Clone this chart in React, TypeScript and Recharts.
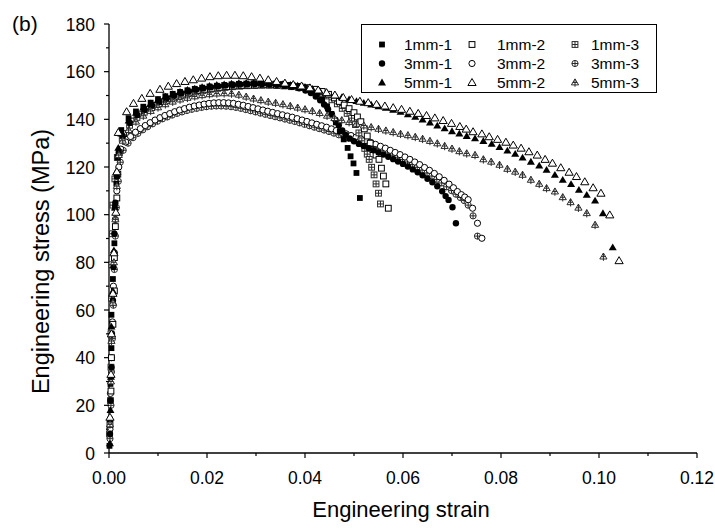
import React from 'react'
import { ScatterChart, Scatter, XAxis, YAxis } from 'recharts'

type Pt = [number, number]

const xTicks = [0, 0.01, 0.02, 0.03, 0.04, 0.05, 0.06, 0.07, 0.08, 0.09, 0.1, 0.11, 0.12]
const yTicks = [0, 10, 20, 30, 40, 50, 60, 70, 80, 90, 100, 110, 120, 130, 140, 150, 160, 170, 180]

// [engineering strain, engineering stress (MPa)]
const s1mm1: Pt[] = [
  [0.0001, 3], [0.0002, 14], [0.0003, 29], [0.0005, 44], [0.0005, 58], [0.0008, 73], [0.0011, 88], [0.0012, 103], [0.0015, 113], [0.0018, 124],
  [0.0025, 135.5], [0.004, 140.5], [0.0055, 143.3], [0.007, 145.3], [0.0085, 147], [0.01, 148.5], [0.0115, 149.7], [0.013, 150.7], [0.0145, 151.5],
  [0.016, 152.2], [0.0175, 152.8], [0.019, 153.3], [0.0205, 153.8], [0.022, 154.1], [0.0235, 154.4], [0.025, 154.7], [0.0265, 154.9], [0.028, 155],
  [0.0295, 155.1], [0.031, 155.1], [0.0325, 155.1], [0.034, 155], [0.0355, 154.8], [0.037, 154.4], [0.0385, 153.9], [0.04, 153.2], [0.0412, 152.2],
  [0.0424, 150.6], [0.0435, 148.4], [0.0445, 145.5], [0.0454, 142.3], [0.0463, 138.7], [0.0471, 135], [0.0479, 131.6], [0.0487, 128], [0.0493, 124.5],
  [0.0499, 121.5], [0.0505, 117.5], [0.0512, 107],
]

const s1mm2: Pt[] = [
  [0.0002, 12], [0.0004, 26], [0.0005, 40], [0.0008, 54], [0.0011, 68], [0.0011, 82], [0.0013, 95], [0.0016, 107], [0.0018, 117], [0.0021, 126],
  [0.003, 134], [0.0045, 139.3], [0.006, 142.2], [0.0075, 144.2], [0.009, 145.9], [0.0105, 147.4], [0.012, 148.6], [0.0135, 149.7], [0.015, 150.6],
  [0.0165, 151.4], [0.018, 152], [0.0195, 152.6], [0.021, 153], [0.0225, 153.4], [0.024, 153.7], [0.0255, 154], [0.027, 154.2], [0.0285, 154.3],
  [0.03, 154.4], [0.0315, 154.5], [0.033, 154.5], [0.0345, 154.4], [0.036, 154.2], [0.0375, 154], [0.039, 153.7], [0.0405, 153.3], [0.042, 152.6],
  [0.0435, 151.7], [0.0448, 150.5], [0.046, 149], [0.047, 147.5], [0.048, 146], [0.049, 144.5], [0.05, 142.8], [0.0507, 141], [0.0514, 139],
  [0.0521, 136], [0.0527, 133], [0.0533, 130], [0.0539, 127.3], [0.0545, 125], [0.0551, 123.2], [0.0556, 119.5], [0.056, 116.2], [0.0565, 112.9],
  [0.057, 102.7],
]

const s1mm3: Pt[] = [
  [0.0001, 8], [0.0003, 22], [0.0004, 36], [0.0004, 50], [0.0005, 65], [0.0006, 79], [0.0007, 92], [0.0008, 104], [0.0012, 115], [0.0017, 124],
  [0.0027, 132], [0.0042, 137.5], [0.0057, 140.8], [0.0072, 143], [0.0087, 144.9], [0.0102, 146.5], [0.0117, 147.8], [0.0132, 149], [0.0147, 150],
  [0.0162, 150.8], [0.0177, 151.5], [0.0192, 152.1], [0.0207, 152.6], [0.0222, 153], [0.0237, 153.4], [0.0252, 153.7], [0.0267, 153.9], [0.0282, 154.1],
  [0.0297, 154.2], [0.0312, 154.3], [0.0327, 154.3], [0.0342, 154.2], [0.0357, 154], [0.0372, 153.7], [0.0387, 153.3], [0.0402, 152.8], [0.0416, 152],
  [0.043, 151], [0.0443, 149.8], [0.0455, 148.2], [0.0466, 146.5], [0.0476, 144.6], [0.0486, 142.5], [0.0495, 140.5], [0.0503, 137.8], [0.051, 134.3],
  [0.0516, 131], [0.0522, 127.8], [0.0527, 125.4], [0.0531, 123.2], [0.0536, 119.9], [0.0541, 116.7], [0.0545, 112.9], [0.055, 109], [0.0554, 104.5],
]

const s3mm1: Pt[] = [
  [0.0002, 8], [0.0003, 22], [0.0005, 36], [0.0006, 50], [0.0008, 64], [0.0009, 78], [0.0011, 92], [0.0013, 105], [0.0016, 116], [0.002, 126],
  [0.0028, 133], [0.0043, 138.5], [0.0058, 141.8], [0.0073, 144], [0.0088, 145.8], [0.0103, 147.4], [0.0118, 148.8], [0.0133, 149.9], [0.0148, 150.9],
  [0.0163, 151.7], [0.0178, 152.4], [0.0193, 153], [0.0208, 153.5], [0.0223, 153.9], [0.0238, 154.2], [0.0253, 154.4], [0.0268, 154.6], [0.0283, 154.7],
  [0.0298, 154.8], [0.0313, 154.8], [0.0328, 154.7], [0.0343, 154.5], [0.0358, 154.2], [0.0373, 153.7], [0.0388, 153], [0.0401, 152.1], [0.0412, 151],
  [0.0422, 149.6], [0.0431, 148], [0.0439, 146.2], [0.0447, 144.2], [0.0455, 142], [0.0462, 139.8], [0.0469, 137.5], [0.0476, 135.3], [0.0483, 133.5],
  [0.0491, 132], [0.05, 130.8], [0.051, 129.7], [0.052, 128.8], [0.053, 127.9], [0.054, 127], [0.055, 126.1], [0.056, 125.2], [0.057, 124.3],
  [0.058, 123.3], [0.059, 122.3], [0.06, 121.3], [0.061, 120.2], [0.062, 119], [0.063, 117.8], [0.064, 116.5], [0.065, 115.1], [0.066, 113.6],
  [0.067, 111.9], [0.068, 109.8], [0.0687, 107.8], [0.0693, 106.2], [0.0701, 103.1], [0.0708, 96.4],
]

const s3mm2: Pt[] = [
  [0.0002, 10], [0.0003, 25], [0.0005, 40], [0.0007, 55], [0.0009, 70], [0.0011, 84], [0.0013, 98], [0.0016, 110], [0.002, 120],
  [0.0024, 127.5], [0.0034, 130.5], [0.0044, 132.8], [0.0054, 134.6], [0.0064, 136.1], [0.0074, 137.4], [0.0084, 138.6], [0.0094, 139.7], [0.0104, 140.7],
  [0.0114, 141.6], [0.0124, 142.4], [0.0134, 143.2], [0.0144, 143.9], [0.0154, 144.5], [0.0164, 145.1], [0.0174, 145.6], [0.0184, 146], [0.0194, 146.4],
  [0.0204, 146.7], [0.0214, 146.9], [0.0224, 147], [0.0234, 147], [0.0244, 146.9], [0.0254, 146.7], [0.0264, 146.3], [0.0274, 145.9], [0.0284, 145.4],
  [0.0294, 144.9], [0.0304, 144.4], [0.0314, 143.9], [0.0324, 143.4], [0.0334, 142.9], [0.0344, 142.4], [0.0354, 141.9], [0.0364, 141.4], [0.0374, 140.9],
  [0.0384, 140.3], [0.0394, 139.7], [0.0404, 139.1], [0.0414, 138.5], [0.0424, 137.9], [0.0434, 137.3], [0.0444, 136.7], [0.0454, 136], [0.0464, 135.3],
  [0.0474, 134.6], [0.0484, 133.9], [0.0494, 133.2], [0.0504, 132.5], [0.0514, 131.8], [0.0524, 131.1], [0.0534, 130.3], [0.0544, 129.5], [0.0554, 128.7],
  [0.0564, 127.9], [0.0574, 127], [0.0584, 126.1], [0.0594, 125.2], [0.0604, 124.2], [0.0614, 123.2], [0.0624, 122.1], [0.0634, 121], [0.0644, 119.8],
  [0.0654, 118.6], [0.0664, 117.3], [0.0674, 115.9], [0.0684, 114.4], [0.0694, 112.8], [0.0703, 111.3], [0.0711, 109.7], [0.0719, 108.4], [0.0726, 107.4],
  [0.0733, 106.3], [0.0742, 102.7], [0.0752, 96.4], [0.0761, 90.1],
]

const s3mm3: Pt[] = [
  [0.0002, 6], [0.0004, 20], [0.0005, 34], [0.0007, 48], [0.0009, 62], [0.0011, 77], [0.0013, 91], [0.0015, 103], [0.0019, 114], [0.0023, 122],
  [0.0029, 127], [0.0039, 130], [0.0049, 132.3], [0.0059, 134.1], [0.0069, 135.6], [0.0079, 136.9], [0.0089, 138.1], [0.0099, 139.2], [0.0109, 140.2],
  [0.0119, 141], [0.0129, 141.8], [0.0139, 142.5], [0.0149, 143.1], [0.0159, 143.7], [0.0169, 144.2], [0.0179, 144.6], [0.0189, 145], [0.0199, 145.3],
  [0.0209, 145.5], [0.0219, 145.6], [0.0229, 145.6], [0.0239, 145.5], [0.0249, 145.3], [0.0259, 145], [0.0269, 144.6], [0.0279, 144.1], [0.0289, 143.6],
  [0.0299, 143.1], [0.0309, 142.6], [0.0319, 142.1], [0.0329, 141.6], [0.0339, 141.1], [0.0349, 140.6], [0.0359, 140.1], [0.0369, 139.6], [0.0379, 139.1],
  [0.0389, 138.5], [0.0399, 137.9], [0.0409, 137.3], [0.0419, 136.7], [0.0429, 136.1], [0.0439, 135.5], [0.0449, 134.9], [0.0459, 134.2], [0.0469, 133.5],
  [0.0479, 132.8], [0.0489, 132.1], [0.0499, 131.4], [0.0509, 130.7], [0.0519, 130], [0.0529, 129.2], [0.0539, 128.4], [0.0549, 127.6], [0.0559, 126.8],
  [0.0569, 125.9], [0.0579, 125], [0.0589, 124.1], [0.0599, 123.1], [0.0609, 122.1], [0.0619, 121], [0.0629, 119.9], [0.0639, 118.7], [0.0649, 117.5],
  [0.0659, 116.2], [0.0669, 114.8], [0.0679, 113.3], [0.0689, 111.7], [0.0699, 110.1], [0.0708, 108.6], [0.0717, 107.2], [0.0725, 105.9], [0.0733, 104],
  [0.0743, 99.5], [0.0752, 91],
]

const s5mm1: Pt[] = [
  [0.0002, 4], [0.0003, 18], [0.0004, 32], [0.0005, 53], [0.0008, 68], [0.001, 85], [0.0012, 103], [0.0015, 118], [0.0019, 128],
  [0.0025, 134], [0.004, 139.5], [0.0055, 142.7], [0.007, 144.9], [0.0085, 146.7], [0.01, 148.2], [0.0115, 149.5], [0.013, 150.6], [0.0145, 151.5],
  [0.016, 152.3], [0.0175, 152.9], [0.019, 153.5], [0.0205, 154], [0.022, 154.4], [0.0235, 154.7], [0.025, 155], [0.0265, 155.2], [0.028, 155.3],
  [0.0295, 155.4], [0.031, 155.4], [0.0325, 155.3], [0.034, 155.1], [0.0355, 154.8], [0.037, 154.5], [0.0385, 154.1], [0.04, 153.6], [0.0415, 152.8],
  [0.043, 151.9], [0.0445, 150.9], [0.046, 150], [0.0475, 149.2], [0.049, 148.4], [0.0505, 147.6], [0.052, 146.9], [0.0535, 146.2], [0.055, 145.5],
  [0.0565, 144.8], [0.058, 144], [0.0595, 143.1], [0.061, 142.1], [0.0625, 141], [0.064, 139.9], [0.0655, 138.6], [0.067, 137.4], [0.0685, 136.2],
  [0.07, 135], [0.0715, 134], [0.073, 133], [0.0747, 132], [0.0764, 130.9], [0.0781, 129.7], [0.0797, 128.3], [0.0813, 126.9], [0.0829, 125.5],
  [0.0844, 123.9], [0.0861, 122.2], [0.0878, 120.6], [0.0893, 118.8], [0.091, 116.7], [0.0926, 114.6], [0.0943, 112.8], [0.0959, 110.4], [0.0975, 108.3],
  [0.0992, 105.9], [0.1008, 100.6], [0.1028, 86.3],
]

const s5mm2: Pt[] = [
  [0.0002, 15], [0.0004, 33], [0.0005, 50], [0.0008, 67], [0.001, 84], [0.0014, 101], [0.0016, 118], [0.0019, 134.5],
  [0.0036, 143.2], [0.005, 146.7], [0.0067, 148.8], [0.0084, 150.9], [0.0104, 152.6], [0.0121, 153.9], [0.0138, 155], [0.0155, 155.9], [0.0172, 156.6],
  [0.0189, 157.3], [0.0206, 157.9], [0.0223, 158.3], [0.024, 158.5], [0.0257, 158.5], [0.0274, 158.3], [0.0291, 157.9], [0.0308, 157.3], [0.0325, 156.6],
  [0.0342, 155.9], [0.0359, 155.2], [0.0376, 154.6], [0.0393, 154], [0.041, 153.2], [0.0427, 152.3], [0.0444, 151.2], [0.0461, 150.2], [0.0478, 149.2],
  [0.0495, 148.3], [0.0512, 147.6], [0.0529, 147], [0.0546, 146.3], [0.0563, 145.6], [0.058, 144.9], [0.0597, 144.2], [0.0614, 143.4], [0.0631, 142.5],
  [0.0648, 141.6], [0.0665, 140.6], [0.0682, 139.5], [0.0699, 138.3], [0.0716, 137], [0.0729, 135.9], [0.0743, 134.8], [0.0761, 133.9], [0.0776, 132.7],
  [0.0793, 131.6], [0.081, 130.4], [0.0825, 129.2], [0.0841, 127.9], [0.0857, 126.4], [0.0874, 125], [0.089, 123.2], [0.0905, 121.6], [0.0922, 119.7],
  [0.0939, 117.8], [0.0954, 116], [0.0971, 113.8], [0.0988, 111.3], [0.1004, 109], [0.1022, 99.9], [0.1041, 80.7],
]

const s5mm3: Pt[] = [
  [0.0002, 12], [0.0004, 30], [0.0005, 47], [0.0008, 63], [0.001, 80], [0.0013, 98], [0.0016, 112], [0.002, 125],
  [0.0028, 131], [0.004, 135.5], [0.0055, 139], [0.007, 141.5], [0.0085, 143.5], [0.01, 145], [0.0115, 146.3], [0.013, 147.4], [0.0145, 148.3],
  [0.016, 149], [0.0175, 149.6], [0.019, 150.1], [0.0205, 150.5], [0.022, 150.8], [0.0235, 150.9], [0.025, 150.8], [0.0265, 150.3], [0.028, 149.5],
  [0.0295, 148.7], [0.031, 148], [0.0325, 147.4], [0.034, 146.9], [0.0355, 146.3], [0.037, 145.6], [0.0385, 144.9], [0.04, 144.2], [0.0415, 143.5],
  [0.043, 142.6], [0.0445, 141.5], [0.046, 140.5], [0.0475, 139.6], [0.049, 138.8], [0.0505, 138.1], [0.052, 137.4], [0.0535, 136.7], [0.055, 136],
  [0.0565, 135.3], [0.058, 134.6], [0.0595, 133.9], [0.061, 133.3], [0.0625, 132.6], [0.064, 131.8], [0.0655, 130.9], [0.067, 129.9], [0.0685, 128.8],
  [0.07, 127.7], [0.0715, 126.6], [0.073, 125.7], [0.0747, 125], [0.0764, 123.2], [0.078, 122.2], [0.0797, 120.9], [0.0813, 119.2], [0.0829, 118],
  [0.0844, 116.7], [0.0861, 114.6], [0.0878, 112.9], [0.0893, 111.1], [0.091, 109.7], [0.0926, 107.3], [0.0942, 105.2], [0.0958, 102.9], [0.0975, 100.6],
  [0.0992, 95.7], [0.1009, 82.4],
]

const FONT = '"Liberation Sans", Arial, Helvetica, sans-serif'
const INK = '#000'
const GREY = '#2a2a2a'

type Kind = 'sqFill' | 'sqOpen' | 'sqCross' | 'ciFill' | 'ciOpen' | 'ciCross' | 'trFill' | 'trOpen' | 'trCross'

function marker(kind: Kind, cx: number, cy: number) {
  switch (kind) {
    case 'sqFill':
      return <rect x={cx - 2.9} y={cy - 2.9} width={5.8} height={5.8} fill={INK} />
    case 'sqOpen':
      return <rect x={cx - 2.9} y={cy - 2.9} width={5.8} height={5.8} fill="#fff" stroke={INK} strokeWidth={1} />
    case 'sqCross':
      return (
        <g stroke={GREY} strokeWidth={1} fill="#fff">
          <rect x={cx - 2.9} y={cy - 2.9} width={5.8} height={5.8} />
          <line x1={cx} x2={cx} y1={cy - 2.9} y2={cy + 2.9} />
          <line x1={cx - 2.9} x2={cx + 2.9} y1={cy} y2={cy} />
        </g>
      )
    case 'ciFill':
      return <circle cx={cx} cy={cy} r={3.2} fill={INK} />
    case 'ciOpen':
      return <circle cx={cx} cy={cy} r={3.1} fill="#fff" stroke={INK} strokeWidth={1} />
    case 'ciCross':
      return (
        <g stroke={GREY} strokeWidth={1} fill="#fff">
          <circle cx={cx} cy={cy} r={3.1} />
          <line x1={cx} x2={cx} y1={cy - 3.1} y2={cy + 3.1} />
          <line x1={cx - 3.1} x2={cx + 3.1} y1={cy} y2={cy} />
        </g>
      )
    case 'trFill':
      return <polygon points={`${cx},${cy - 3.9} ${cx - 4},${cy + 2.9} ${cx + 4},${cy + 2.9}`} fill={INK} />
    case 'trOpen':
      return (
        <polygon
          points={`${cx},${cy - 4} ${cx - 4.1},${cy + 3} ${cx + 4.1},${cy + 3}`}
          fill="#fff"
          stroke={INK}
          strokeWidth={1}
        />
      )
    case 'trCross':
      return (
        <g stroke={GREY} strokeWidth={1} fill="#fff">
          <polygon points={`${cx},${cy - 3.6} ${cx - 3.6},${cy + 2.4} ${cx + 3.6},${cy + 2.4}`} />
          <line x1={cx} x2={cx} y1={cy - 3.6} y2={cy + 4.2} />
          <line x1={cx - 2.2} x2={cx + 2.2} y1={cy} y2={cy} />
        </g>
      )
  }
}

const series: { name: string; kind: Kind; data: Pt[] }[] = [
  { name: '3mm-3', kind: 'ciCross', data: s3mm3 },
  { name: '3mm-2', kind: 'ciOpen', data: s3mm2 },
  { name: '1mm-3', kind: 'sqCross', data: s1mm3 },
  { name: '1mm-2', kind: 'sqOpen', data: s1mm2 },
  { name: '3mm-1', kind: 'ciFill', data: s3mm1 },
  { name: '1mm-1', kind: 'sqFill', data: s1mm1 },
  { name: '5mm-3', kind: 'trCross', data: s5mm3 },
  { name: '5mm-1', kind: 'trFill', data: s5mm1 },
  { name: '5mm-2', kind: 'trOpen', data: s5mm2 },
]

const legendRows: { name: string; kind: Kind }[][] = [
  [{ name: '1mm-1', kind: 'sqFill' }, { name: '1mm-2', kind: 'sqOpen' }, { name: '1mm-3', kind: 'sqCross' }],
  [{ name: '3mm-1', kind: 'ciFill' }, { name: '3mm-2', kind: 'ciOpen' }, { name: '3mm-3', kind: 'ciCross' }],
  [{ name: '5mm-1', kind: 'trFill' }, { name: '5mm-2', kind: 'trOpen' }, { name: '5mm-3', kind: 'trCross' }],
]

const toPoints = (d: Pt[]) => d.map(([x, y]) => ({ x, y }))

const XTick = (props: any) => {
  const { x, y, payload } = props
  const v = payload.value as number
  const major = Math.round(v * 100) % 2 === 0
  return (
    <g>
      <line x1={x} x2={x} y1={y} y2={y + (major ? 5 : 3)} stroke={INK} strokeWidth={1.2} />
      {major && (
        <text x={x} y={y + 31} textAnchor="middle" fontSize={17.5} fontFamily={FONT} fill={INK}>
          {v.toFixed(2)}
        </text>
      )}
    </g>
  )
}

const YTick = (props: any) => {
  const { x, y, payload } = props
  const v = payload.value as number
  const major = v % 20 === 0
  return (
    <g>
      <line x1={x - (major ? 5 : 3)} x2={x} y1={y} y2={y} stroke={INK} strokeWidth={1.2} />
      {major && (
        <text x={x - 14} y={y + 6.5} textAnchor="end" fontSize={17.5} fontFamily={FONT} fill={INK}>
          {v}
        </text>
      )}
    </g>
  )
}

const xTitle = (props: any) => {
  const vb = props.viewBox
  return (
    <text x={vb.x + vb.width / 2 - 2} y={vb.y + 64} textAnchor="middle" fontSize={22} fontFamily={FONT} fill={INK}>
      Engineering strain
    </text>
  )
}

const yTitle = (props: any) => {
  const vb = props.viewBox
  const cx = vb.x
  const cy = vb.y + vb.height / 2 + 23
  return (
    <text transform={`translate(${cx}, ${cy}) rotate(-90)`} textAnchor="middle" fontSize={23.5} fontFamily={FONT} fill={INK}>
      Engineering stress (MPa)
    </text>
  )
}

export default function App() {
  const legendY = [44.5, 63.5, 82.5]
  const markX = [382, 472, 575]
  const textX = [404, 497, 591]
  return (
    <div style={{ position: 'absolute', left: 0, top: 0, width: 715, height: 528, background: '#fff' }}>
      <ScatterChart width={715} height={528} margin={{ top: 24, right: 18, bottom: 15, left: 49 }}>
        <XAxis
          type="number"
          dataKey="x"
          domain={[0, 0.12]}
          ticks={xTicks}
          interval={0}
          height={60}
          tickSize={0}
          tickMargin={0}
          tickLine={false}
          tick={XTick}
          axisLine={{ stroke: INK, strokeWidth: 1.3 }}
          label={xTitle}
        />
        <YAxis
          type="number"
          dataKey="y"
          domain={[0, 180]}
          ticks={yTicks}
          interval={0}
          width={60}
          tickSize={0}
          tickMargin={0}
          tickLine={false}
          tick={YTick}
          axisLine={{ stroke: INK, strokeWidth: 1.3 }}
          label={yTitle}
        />
        {series.map((s) => (
          <Scatter
            key={s.name}
            name={s.name}
            data={toPoints(s.data)}
            isAnimationActive={false}
            shape={(p: any) => marker(s.kind, p.cx, p.cy)}
          />
        ))}
      </ScatterChart>
      <svg
        width={715}
        height={528}
        style={{ position: 'absolute', left: 0, top: 0, pointerEvents: 'none' }}
      >
        <text x={12} y={31} fontSize={21} fontFamily={FONT} fill={INK}>
          (b)
        </text>
        <rect x={361.5} y={24.5} width={295} height={68} fill="#fff" stroke={INK} strokeWidth={1} />
        {legendRows.map((row, ri) =>
          row.map((item, ci) => (
            <g key={item.name}>
              {marker(item.kind, markX[ci], legendY[ri])}
              <text x={textX[ci]} y={legendY[ri] + 5.5} fontSize={15.5} fontFamily={FONT} fill={INK}>
                {item.name}
              </text>
            </g>
          ))
        )}
      </svg>
    </div>
  )
}
